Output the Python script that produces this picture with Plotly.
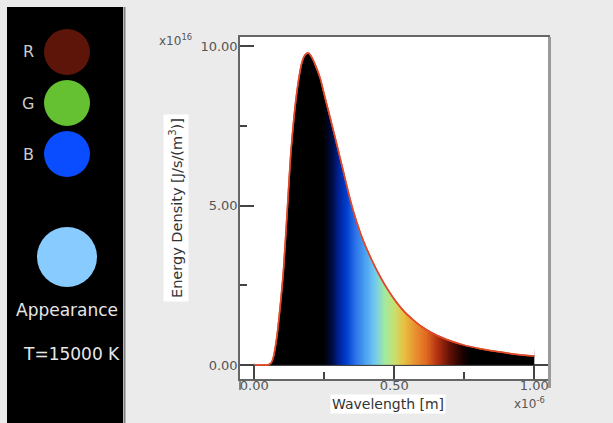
import numpy as np
import plotly.graph_objects as go

W, H = 613, 423

# Planck spectrum of a 15000 K body, wavelength in units of 1e-6 m,
# energy density in units of 1e16
wavelength_um = [0.000, 0.030, 0.050, 0.060, 0.068, 0.080, 0.092, 0.104, 0.118, 0.130,
                 0.142, 0.155, 0.169, 0.181, 0.193, 0.205, 0.218, 0.235, 0.252, 0.270,
                 0.288, 0.306, 0.324, 0.342, 0.365, 0.389, 0.419, 0.449, 0.479, 0.509,
                 0.538, 0.568, 0.598, 0.628, 0.687, 0.746, 0.806, 0.866, 0.930, 1.000]
energy_e16 = [0.00, 0.00, 0.01, 0.06, 0.24, 0.85, 1.80, 2.95, 4.90, 6.60,
              7.80, 8.75, 9.45, 9.72, 9.78, 9.65, 9.40, 9.00, 8.40, 7.78,
              7.15, 6.50, 5.85, 5.20, 4.50, 3.90, 3.30, 2.78, 2.33, 1.95,
              1.65, 1.41, 1.20, 1.04, 0.80, 0.63, 0.51, 0.42, 0.34, 0.28]

# colour of light along the wavelength axis (um, colour)
spectrum_stops = [(0.000, "#000000"), (0.245, "#000000"), (0.275, "#000a3a"),
                  (0.305, "#0025a0"), (0.330, "#0040d0"), (0.360, "#2a70e8"),
                  (0.395, "#4aa0f0"), (0.430, "#70c8f0"), (0.465, "#a0eaa0"),
                  (0.500, "#c8e070"), (0.535, "#e8c040"), (0.575, "#e89030"),
                  (0.615, "#e06820"), (0.655, "#b03010"), (0.700, "#601005"),
                  (0.745, "#1a0000"), (0.770, "#000000"), (1.000, "#000000")]

channel_labels = ["R", "G", "B"]
channel_colors = ["#5c1508", "#66c132", "#0a4cff"]
appearance_color = "#88ccff"
temperature_text = "T=15000 K"

X_RANGE = [-0.0511, 1.0489]
Y_RANGE = [-0.439, 10.282]
Y_TOP = 10.6
CURVE_COLOR = "#e04a2a"


def fx(p):
    return p / W


def fy(p):
    return 1 - p / H


fig = go.Figure()

# spectral band under the curve
lo, hi = min(wavelength_um), max(wavelength_um)
edges = np.linspace(lo, hi, 601)
centers = (edges[:-1] + edges[1:]) / 2
fig.add_trace(go.Heatmap(
    x=edges, y=[0, Y_TOP], z=[centers],
    colorscale=[[w, c] for w, c in spectrum_stops], zmin=0, zmax=1,
    showscale=False, hoverinfo="skip"))

curve_line = dict(color=CURVE_COLOR, width=1.5, shape="spline", smoothing=0.6)
fig.add_trace(go.Scatter(x=wavelength_um, y=energy_e16, mode="lines",
                         line=curve_line, hoverinfo="skip"))
# blank out everything above the curve (mask spans the full x range)
fig.add_trace(go.Scatter(x=[X_RANGE[0] - 0.05, X_RANGE[1] + 0.05], y=[Y_TOP, Y_TOP],
                         mode="lines", line=dict(width=0), fill="tonexty",
                         fillcolor="white", hoverinfo="skip"))
fig.add_trace(go.Scatter(x=wavelength_um, y=energy_e16, mode="lines",
                         line=curve_line, hoverinfo="skip"))

tick_font = dict(family="DejaVu Sans", size=13, color="#555555")
common_axis = dict(showgrid=False, showline=True, mirror=True, linecolor="#666666",
                   linewidth=1.5, ticks="inside", ticklen=14, tickwidth=1.5,
                   tickcolor="#444444", tickfont=tick_font, tickformat=".2f",
                   tickmode="linear", tick0=0, fixedrange=True)
minor_ticks = dict(ticks="inside", ticklen=7, tickwidth=1.5, tickcolor="#444444")

fig.update_layout(
    width=W, height=H,
    margin=dict(l=0, r=0, t=0, b=0, pad=0),
    paper_bgcolor="#ebebeb", plot_bgcolor="white", showlegend=False,
    xaxis=dict(domain=[fx(240), fx(548)], range=X_RANGE, dtick=0.5,
               zeroline=False, ticklabelstandoff=-6,
               minor=dict(dtick=0.25, **minor_ticks),
               **common_axis),
    yaxis=dict(domain=[fy(379), fy(37)], range=Y_RANGE, dtick=5,
               zeroline=True, zerolinecolor="#444444", zerolinewidth=1.5,
               ticklabelstandoff=-2,
               minor=dict(dtick=2.5, **minor_ticks),
               **common_axis),
)

shapes = []
# left side panel
shapes.append(dict(type="rect", xref="paper", yref="paper", x0=fx(7), x1=fx(123),
                   y0=fy(423), y1=fy(7), fillcolor="black", line=dict(width=0)))
shapes.append(dict(type="line", xref="paper", yref="paper", x0=fx(124.5), x1=fx(124.5),
                   y0=fy(423), y1=fy(7), line=dict(color="#808080", width=2)))
# heavier right edge of the plot frame
shapes.append(dict(type="line", xref="paper", yref="paper", x0=fx(549.5), x1=fx(549.5),
                   y0=fy(388), y1=fy(37), line=dict(color="#9a9a9a", width=3)))
shapes.append(dict(type="line", xref="paper", yref="paper", x0=fx(240), x1=fx(240),
                   y0=fy(390), y1=fy(379), line=dict(color="#666666", width=1.5)))


def circle(cx, cy, r, color):
    return dict(type="circle", xref="paper", yref="paper",
                x0=fx(cx - r), x1=fx(cx + r), y0=fy(cy + r), y1=fy(cy - r),
                fillcolor=color, line=dict(width=0))


annotations = []
for i, (lab, col) in enumerate(zip(channel_labels, channel_colors)):
    cy = 52 + 51 * i
    shapes.append(circle(67, cy, 23, col))
    annotations.append(dict(text=lab, xref="paper", yref="paper", x=fx(28), y=fy(cy),
                            showarrow=False, xanchor="center", yanchor="middle",
                            font=dict(family="DejaVu Sans", size=16, color="#cccccc")))
shapes.append(circle(67, 257, 30, appearance_color))
annotations.append(dict(text="Appearance", xref="paper", yref="paper", x=fx(67), y=fy(310),
                        showarrow=False, xanchor="center", yanchor="middle",
                        font=dict(family="DejaVu Sans", size=17, color="#e6e6e6")))
annotations.append(dict(text=temperature_text, xref="paper", yref="paper", x=fx(21), y=fy(354),
                        showarrow=False, xanchor="left", yanchor="middle",
                        font=dict(family="DejaVu Sans", size=17, color="#e6e6e6")))

# axis titles on white labels
annotations.append(dict(text="Energy Density [J/s/(m<sup>3</sup>)]", xref="paper", yref="paper",
                        x=fx(176), y=fy(208), textangle=-90, showarrow=False,
                        xanchor="center", yanchor="middle", bgcolor="white", borderpad=3,
                        font=dict(family="DejaVu Sans", size=14.5, color="#333333")))
annotations.append(dict(text="Wavelength [m]", xref="paper", yref="paper",
                        x=fx(388), y=fy(404), showarrow=False,
                        xanchor="center", yanchor="middle", bgcolor="white", borderpad=1,
                        font=dict(family="DejaVu Sans", size=14, color="#333333")))
# axis multipliers
annotations.append(dict(text="x10<sup>16</sup>", xref="paper", yref="paper",
                        x=fx(157), y=fy(40), showarrow=False, xanchor="left", yanchor="middle",
                        font=dict(family="DejaVu Sans", size=12, color="#555555")))
annotations.append(dict(text="x10<sup>-6</sup>", xref="paper", yref="paper",
                        x=fx(512), y=fy(403), showarrow=False, xanchor="left", yanchor="middle",
                        font=dict(family="DejaVu Sans", size=12, color="#555555")))

fig.update_layout(shapes=shapes, annotations=annotations)
fig.write_html("out.html")
